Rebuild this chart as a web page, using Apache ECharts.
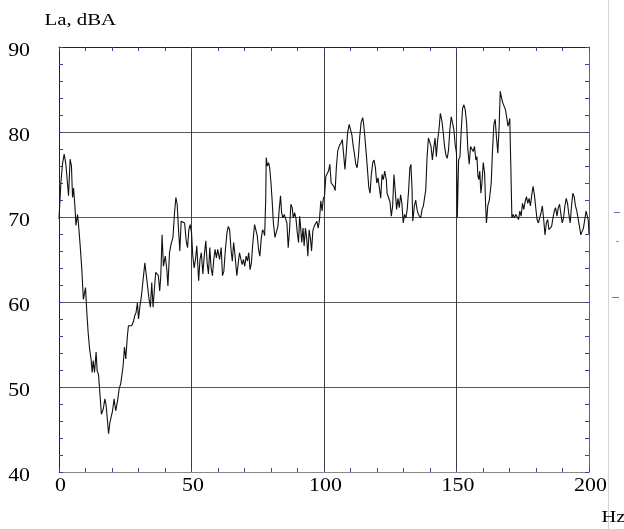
<!DOCTYPE html>
<html>
<head>
<meta charset="utf-8">
<script src="https://cdn.jsdelivr.net/npm/echarts@6/dist/echarts.min.js"></script>
<style>
html,body{margin:0;padding:0;background:#fff;}
#chart{width:624px;height:529px;}
</style>
</head>
<body>
<div id="chart"></div>
<script>
// Frequency (Hz) and A-weighted level (dBA)
const freq = [
0.0,0.7,1.3,1.95,2.6,3.0,3.6,4.2,4.7,5.1,5.5,6.0,6.4,7.0,7.4,8.0,8.6,9.2,10.0,10.5,
11.0,11.6,12.1,12.5,12.9,13.4,14.0,14.4,14.9,15.5,16.0,16.7,17.3,17.8,18.3,18.7,19.2,19.7,20.2,20.8,
21.4,22.1,22.7,23.3,23.7,24.2,24.7,25.2,25.8,26.2,26.9,27.4,28.1,28.6,29.1,29.6,30.0,30.5,31.1,31.8,
32.4,32.9,33.4,34.0,34.5,35.0,35.5,36.0,36.5,37.0,37.5,38.0,38.4,38.9,39.4,40.1,40.7,41.1,41.7,42.3,
43.0,43.6,44.1,44.6,45.1,45.6,46.1,46.7,47.4,48.0,48.5,49.0,49.5,50.0,50.5,51.0,51.5,52.0,52.7,53.2,
53.7,54.3,54.8,55.4,55.9,56.4,56.9,57.4,57.9,58.4,58.9,59.4,59.9,60.6,61.2,61.7,62.2,62.8,63.4,63.9,
64.4,64.9,65.4,65.9,66.4,67.1,67.6,68.1,68.6,69.1,69.6,70.1,70.6,71.1,71.6,72.1,72.6,73.1,73.8,74.3,
74.8,75.3,75.8,76.3,76.8,77.3,77.6,78.0,78.2,78.6,79.1,79.5,80.0,80.4,80.9,81.5,82.0,82.6,83.1,83.6,
84.0,84.5,85.0,85.5,86.0,86.5,87.0,87.5,88.0,88.4,88.9,89.4,89.9,90.4,90.8,91.1,91.6,92.1,92.5,93.0,
93.5,93.9,94.4,94.9,95.3,95.8,96.3,96.8,97.3,97.8,98.3,98.8,99.3,99.7,100.2,100.7,101.2,101.7,102.2,102.7,
103.2,103.7,104.2,104.7,105.2,105.8,106.4,106.9,107.4,107.9,108.4,108.9,109.5,110.0,110.5,111.0,111.5,112.0,112.5,113.0,
113.5,114.0,114.6,114.9,115.4,115.9,116.4,116.9,117.4,117.8,118.4,118.9,119.4,119.9,120.4,120.9,121.4,121.9,122.4,122.9,
123.5,123.8,124.3,124.9,125.4,125.9,126.4,126.9,127.4,127.9,128.4,128.9,129.4,129.9,130.4,130.9,131.4,131.9,132.4,132.8,
133.2,133.5,134.1,134.6,135.1,135.6,136.1,136.5,137.0,137.5,138.0,138.4,138.9,139.4,139.9,140.4,140.9,141.4,141.9,142.4,
142.9,143.4,143.9,144.5,145.0,145.5,146.0,146.5,147.0,147.5,148.0,148.5,149.0,149.5,150.0,150.3,150.8,151.3,151.8,152.3,
152.8,153.3,153.8,154.3,154.8,155.3,155.8,156.3,156.8,157.3,157.7,158.1,158.4,158.8,159.2,159.6,160.1,160.6,161.0,161.3,
161.8,162.4,163.1,163.6,164.1,164.6,165.1,165.6,166.1,166.5,167.0,167.5,168.0,168.5,169.0,169.4,169.8,170.1,170.5,170.9,
171.4,171.9,172.4,172.9,173.4,173.9,174.4,174.9,175.4,175.9,176.4,176.9,177.4,177.9,178.4,178.9,179.4,179.9,180.4,180.9,
181.4,181.9,182.4,182.9,183.4,183.9,184.4,184.9,185.4,185.9,186.4,186.9,187.4,187.9,188.4,188.9,189.4,189.9,190.4,190.9,
191.4,191.9,192.4,192.9,193.4,193.9,194.4,194.9,195.4,195.9,196.4,196.9,197.4,197.9,198.4,198.9,199.3,199.7,200.0
];
const level = [
69.8,74.0,76.2,77.4,76.2,76.0,72.5,76.8,76.0,72.3,73.4,71.3,69.0,70.3,69.0,66.6,63.9,60.3,61.7,58.8,
56.4,54.3,53.3,51.7,53.1,51.7,54.1,51.9,51.5,49.0,46.8,47.4,48.6,47.8,46.0,44.5,45.8,45.6,47.2,48.6,
47.2,48.4,49.8,50.4,50.2,52.5,54.7,53.3,56.0,57.2,57.4,57.2,57.7,58.4,58.8,59.9,58.0,59.4,60.7,60.5,
64.6,64.4,61.9,60.3,59.4,62.3,59.4,61.5,63.5,63.7,63.1,61.3,63.0,67.9,64.2,65.4,63.8,61.9,65.8,66.8,
67.6,70.5,72.3,71.5,68.5,66.0,69.5,69.7,69.3,67.2,66.4,68.5,69.1,68.2,65.4,64.0,65.0,66.6,62.5,65.0,
65.8,63.3,65.4,67.2,64.6,63.3,66.4,64.0,63.1,65.0,66.2,65.2,66.2,65.0,66.4,63.1,63.6,66.2,68.2,68.9,
68.5,66.2,64.8,67.0,65.6,63.1,62.9,65.8,65.6,64.4,65.0,64.2,65.4,64.8,65.8,63.8,64.6,66.8,69.1,68.9,
67.8,66.2,65.4,67.4,68.5,68.2,67.8,72.0,77.0,76.0,76.4,75.8,74.0,72.1,69.3,67.6,68.2,68.9,70.9,72.5,
70.5,69.9,70.3,70.1,69.3,66.4,68.5,71.5,71.1,69.9,70.5,69.9,68.2,67.0,70.1,69.1,67.0,68.7,66.6,68.7,
67.4,65.4,68.5,67.4,66.0,68.4,68.9,69.1,69.5,68.7,69.7,71.9,70.7,72.1,72.5,74.8,74.6,75.4,76.2,74.0,
73.8,73.6,73.1,76.0,77.8,78.4,78.7,79.1,77.4,75.6,77.6,79.9,80.9,80.7,79.7,78.4,77.4,76.2,75.8,77.2,
79.5,81.1,81.7,81.1,79.5,77.6,75.6,73.5,72.8,74.8,76.4,76.7,75.8,74.0,74.6,74.4,72.2,75.0,74.4,75.4,
74.4,72.8,72.6,71.8,70.1,71.3,75.0,73.0,70.9,72.2,71.1,72.6,71.6,69.3,70.3,69.9,70.9,73.0,75.8,76.2,
73.4,69.5,71.3,72.0,70.9,70.3,70.5,69.9,70.9,71.3,71.1,73.2,77.1,79.3,79.5,78.3,76.7,78.1,79.3,77.1,
79.1,80.3,82.2,81.3,79.9,78.3,77.3,76.9,77.9,80.3,81.8,81.6,80.3,78.5,77.5,69.9,76.7,77.1,80.3,82.8,
83.2,82.6,81.1,77.9,76.2,78.3,78.5,77.7,78.3,76.7,77.1,74.8,74.4,75.4,72.8,74.0,76.4,75.2,71.3,69.3,
71.3,72.0,74.0,77.9,80.9,81.5,79.3,77.5,80.7,84.8,84.0,83.4,83.2,82.6,81.6,80.7,81.1,81.6,76.0,69.9,
70.3,69.9,70.3,70.1,69.7,70.7,70.1,71.6,70.9,71.8,72.4,71.6,72.2,71.3,72.6,73.6,72.6,71.1,69.7,69.3,
69.5,70.5,71.3,69.7,67.9,69.3,69.7,68.5,68.5,68.9,69.9,70.7,71.1,70.1,71.1,71.5,70.3,69.3,69.9,71.3,
72.2,71.6,70.3,69.3,71.3,72.8,72.4,71.3,70.7,70.5,68.9,67.9,68.1,68.7,69.7,70.7,70.7,69.7,68.0
];
const xTickLabels = [0, 50, 100, 150, 200];
const yTickLabels = [40, 50, 60, 70, 80, 90];
const yTitle = 'La, dBA';
const xTitle = 'Hz';

const pairs = freq.map((f, i) => [f, level[i]]);
const tickBlue = '#34469a';
const chart = echarts.init(document.getElementById('chart'), null, {renderer: 'canvas'});

const option = {
  backgroundColor: '#ffffff',
  animation: false,
  grid: {left: 59, top: 47, width: 530, height: 425, containLabel: false},
  xAxis: [
    {type: 'value', position: 'bottom', min: 0, max: 200, interval: 50,
     axisLine: {show: true, onZero: false, lineStyle: {color: '#888', width: 1}},
     axisTick: {show: false}, axisLabel: {show: false},
     splitLine: {show: true, lineStyle: {color: '#3c3c3c', width: 1}}},
    {type: 'value', position: 'top', min: 0, max: 200, interval: 10,
     axisLine: {show: true, onZero: false, lineStyle: {color: '#222', width: 1}},
     axisTick: {show: true, inside: true, length: 4, lineStyle: {color: tickBlue, width: 1}},
     axisLabel: {show: false}, splitLine: {show: false}},
    {type: 'value', position: 'bottom', min: 0, max: 200, interval: 10,
     axisLine: {show: false, onZero: false},
     axisTick: {show: true, inside: true, length: 4, lineStyle: {color: tickBlue, width: 1}},
     axisLabel: {show: false}, splitLine: {show: false}}
  ],
  yAxis: [
    {type: 'value', position: 'left', min: 40, max: 90, interval: 10,
     axisLine: {show: true, onZero: false, lineStyle: {color: '#222', width: 1}},
     axisTick: {show: false}, axisLabel: {show: false},
     splitLine: {show: true, lineStyle: {color: '#5a5a5a', width: 1}}},
    {type: 'value', position: 'right', min: 40, max: 90, interval: 2,
     axisLine: {show: true, onZero: false, lineStyle: {color: '#666', width: 1}},
     axisTick: {show: true, inside: true, length: 4, lineStyle: {color: tickBlue, width: 1}},
     axisLabel: {show: false}, splitLine: {show: false}},
    {type: 'value', position: 'left', min: 40, max: 90, interval: 2,
     axisLine: {show: false, onZero: false},
     axisTick: {show: true, inside: true, length: 4, lineStyle: {color: tickBlue, width: 1}},
     axisLabel: {show: false}, splitLine: {show: false}}
  ],
  series: [{
    type: 'line', xAxisIndex: 0, yAxisIndex: 0,
    data: pairs, showSymbol: false, symbol: 'none', smooth: false,
    lineStyle: {color: '#111', width: 1.1}, z: 5
  }]
};
chart.setOption(option);

const FONT = '"Liberation Serif", "Times New Roman", serif';
function label(text, x, y, size, sx, align) {
  return {type: 'text', x: x, y: y, scaleX: sx, scaleY: 1, z: 10,
    style: {text: text, fontFamily: FONT, fontSize: size, fill: '#000',
      align: align, verticalAlign: 'middle', textAlign: align, textVerticalAlign: 'middle'}};
}
const g = [];
xTickLabels.forEach(v => {
  const px = chart.convertToPixel({xAxisIndex: 0}, v);
  g.push(label(String(v), px + 1.5, 486.5, 19, 1.15, 'center'));
});
yTickLabels.forEach(v => {
  const py = chart.convertToPixel({yAxisIndex: 0}, v);
  g.push(label(String(v), 30, py + 3.7, 19, 1.15, 'right'));
});
g.push(label(yTitle, 44.5, 20.5, 16, 1.3, 'left'));
g.push(label(xTitle, 601.5, 517.5, 17, 1.2, 'left'));
// page edge artifacts at right
g.push({type: 'line', shape: {x1: 608.5, y1: 0, x2: 608.5, y2: 529}, style: {stroke: '#d4d4d4', lineWidth: 1}});
g.push({type: 'line', shape: {x1: 614, y1: 212.5, x2: 620, y2: 212.5}, style: {stroke: '#6a78b0', lineWidth: 1}});
g.push({type: 'line', shape: {x1: 616, y1: 241.5, x2: 619, y2: 241.5}, style: {stroke: '#8a96c4', lineWidth: 1}});
g.push({type: 'line', shape: {x1: 612, y1: 297.5, x2: 619, y2: 297.5}, style: {stroke: '#6a78b0', lineWidth: 1}});
chart.setOption({graphic: g});
</script>
</body>
</html>
